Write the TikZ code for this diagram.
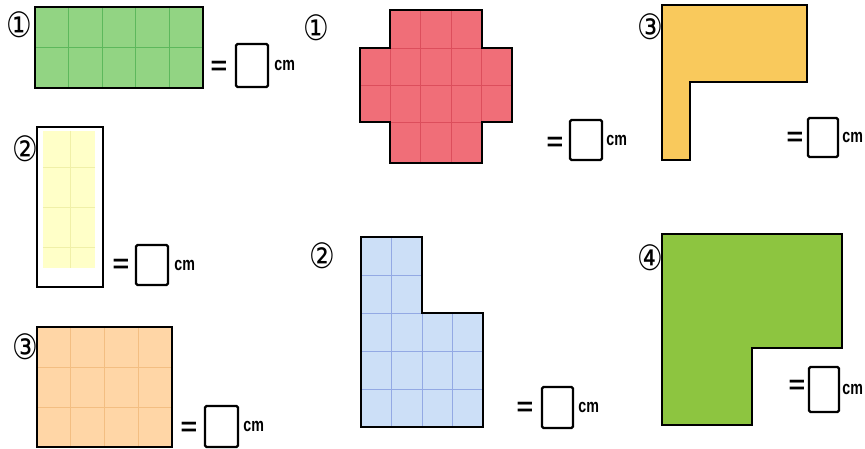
\documentclass[tikz,border=0pt]{standalone}
\usepackage{fontspec}
\setmainfont{Liberation Sans}
\newfontfamily\symfont{DejaVu Sans}
\definecolor{gfill}{HTML}{92D483}
\definecolor{gline}{HTML}{5DB85C}
\definecolor{yfill}{HTML}{FFFFC8}
\definecolor{yline}{HTML}{F0F0A8}
\definecolor{pfill}{HTML}{FFD6A6}
\definecolor{pline}{HTML}{F3BE82}
\definecolor{rfill}{HTML}{F06E78}
\definecolor{rline}{HTML}{DC4E5C}
\definecolor{bfill}{HTML}{CCDFF7}
\definecolor{bline}{HTML}{93A9E4}
\definecolor{ofill}{HTML}{F9C95C}
\definecolor{lfill}{HTML}{8DC540}
\tikzset{
  outline/.style={draw=black, line width=1.6pt, line join=miter},
  gridline/.style={line width=0.9pt},
  num/.style={inner sep=0pt, font=\symfont\fontsize{35}{35}\selectfont},
  eqsign/.style={inner sep=0pt, font=\bfseries\fontsize{30}{30}\selectfont},
  ansbox/.style={draw=black, line width=2.4pt, rounded corners=1.5pt, inner sep=0pt},
  unit/.style={inner sep=0pt, anchor=west, font=\bfseries\fontsize{19}{19}\selectfont}
}
\newcommand{\cmtext}{\scalebox{0.75}[1]{cm}}
\newcommand{\circnum}[1]{\scalebox{0.82}[1]{#1}}
\newcommand{\eqtext}{\scalebox{0.95}[0.85]{=}}
\begin{document}
\begin{tikzpicture}[x=1pt,y=-1pt]
\useasboundingbox (0,0) rectangle (865,449);
\fill[white] (0,0) rectangle (865,449);

% ---------- left 1: green rectangle ----------
\fill[gfill] (35,7) rectangle (203,88);
\foreach \i in {1,...,4} \draw[gridline, gline] ({35+33.6*\i},7) -- ({35+33.6*\i},88);
\draw[gridline, gline] (35,47.5) -- (203,47.5);
\draw[outline] (35,7) rectangle (203,88);
\node[num] (n1) at (19,25) {\circnum{①}};
\node[eqsign] (e1) at (219,68) {\eqtext};
\node[ansbox, minimum width=32pt, minimum height=43pt] (a1) at (252,65.5) {};
\node[unit] (u1) at ([xshift=5pt]a1.east) {\cmtext};

% ---------- left 2: pale yellow rectangle ----------
\fill[yfill] (43,131) rectangle (95,268);
\draw[gridline, yline] (70,131) -- (70,268);
\foreach \y in {167,207,247} \draw[gridline, yline] (43,\y) -- (95,\y);
\draw[outline] (37,127) rectangle (103,287);
\node[num] (n2) at (25,149) {\circnum{②}};
\node[eqsign] (e2) at (121,266) {\eqtext};
\node[ansbox, minimum width=32pt, minimum height=40pt] (a2) at (152,265) {};
\node[unit] (u2) at ([xshift=5pt]a2.east) {\cmtext};

% ---------- left 3: peach rectangle ----------
\fill[pfill] (37,327) rectangle (172,447);
\foreach \i in {1,2,3} \draw[gridline, pline] ({37+33.75*\i},327) -- ({37+33.75*\i},447);
\foreach \y in {367,407} \draw[gridline, pline] (37,\y) -- (172,\y);
\draw[outline] (37,327) rectangle (172,447);
\node[num] (n3) at (25,347) {\circnum{③}};
\node[eqsign] (e3) at (189,429) {\eqtext};
\node[ansbox, minimum width=33pt, minimum height=41pt] (a3) at (221.5,426.5) {};
\node[unit] (u3) at ([xshift=4pt]a3.east) {\cmtext};

% ---------- middle 1: red cross ----------
\begin{scope}
\path[clip] (390,10) -- (482,10) -- (482,48) -- (512,48) -- (512,122) -- (482,122) -- (482,163) -- (390,163) -- (390,122) -- (360,122) -- (360,48) -- (390,48) -- cycle;
\fill[rfill] (350,0) rectangle (520,170);
\foreach \x in {390.4,420.8,451.2,481.6} \draw[gridline, rline] (\x,0) -- (\x,170);
\foreach \y in {48,85,122} \draw[gridline, rline] (350,\y) -- (520,\y);
\end{scope}
\draw[outline] (390,10) -- (482,10) -- (482,48) -- (512,48) -- (512,122) -- (482,122) -- (482,163) -- (390,163) -- (390,122) -- (360,122) -- (360,48) -- (390,48) -- cycle;
\node[num] (m1) at (316,28) {\circnum{①}};
\node[eqsign] (e4) at (555,144) {\eqtext};
\node[ansbox, minimum width=32pt, minimum height=40pt] (a4) at (586,140) {};
\node[unit] (u4) at ([xshift=3pt]a4.east) {\cmtext};

% ---------- middle 2: blue L ----------
\begin{scope}
\path[clip] (361,237) -- (422,237) -- (422,313) -- (483,313) -- (483,427) -- (361,427) -- cycle;
\fill[bfill] (350,230) rectangle (490,430);
\foreach \x in {391.5,422,452.5} \draw[gridline, bline] (\x,230) -- (\x,430);
\foreach \y in {275,313,351,389} \draw[gridline, bline] (350,\y) -- (490,\y);
\end{scope}
\draw[outline] (361,237) -- (422,237) -- (422,313) -- (483,313) -- (483,427) -- (361,427) -- cycle;
\node[num] (m2) at (322,256) {\circnum{②}};
\node[eqsign] (e5) at (525,409) {\eqtext};
\node[ansbox, minimum width=31pt, minimum height=41pt] (a5) at (557.5,407.5) {};
\node[unit] (u5) at ([xshift=4pt]a5.east) {\cmtext};

% ---------- right 3: golden L ----------
\fill[ofill] (662,5) -- (807,5) -- (807,82) -- (690,82) -- (690,160) -- (662,160) -- cycle;
\draw[outline] (662,5) -- (807,5) -- (807,82) -- (690,82) -- (690,160) -- (662,160) -- cycle;
\node[num] (r3) at (650,27) {\circnum{③}};
\node[eqsign] (e6) at (795,139) {\eqtext};
\node[ansbox, minimum width=30pt, minimum height=39pt] (a6) at (823,137.5) {};
\node[unit] (u6) at ([xshift=3pt]a6.east) {\cmtext};

% ---------- right 4: green L ----------
\fill[lfill] (662,234) -- (842,234) -- (842,348) -- (752,348) -- (752,425) -- (662,425) -- cycle;
\draw[outline] (662,234) -- (842,234) -- (842,348) -- (752,348) -- (752,425) -- (662,425) -- cycle;
\node[num] (r4) at (650,258) {\circnum{④}};
\node[eqsign] (e7) at (797,387) {\eqtext};
\node[ansbox, minimum width=30pt, minimum height=45pt] (a7) at (824,389.5) {};
\node[unit] (u7) at ([xshift=2pt]a7.east) {\cmtext};
\end{tikzpicture}
\end{document}
